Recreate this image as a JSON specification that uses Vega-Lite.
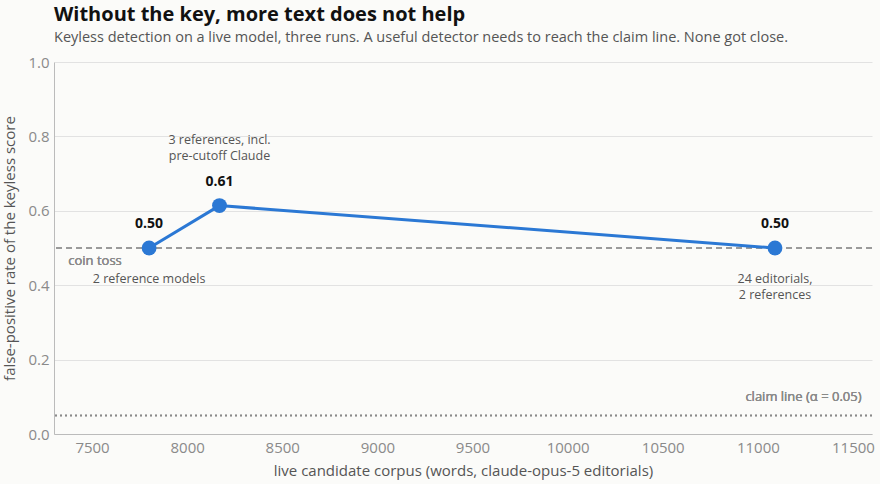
{
  "$schema": "https://vega.github.io/schema/vega-lite/v6.json",
  "width": 880,
  "height": 484,
  "autosize": {"type": "fit", "contains": "padding"},
  "padding": {"left": 2, "top": 4, "right": 7, "bottom": 6},
  "background": "#fbfbf9",
  "title": {
    "text": "Without the key, more text does not help",
    "subtitle": "Keyless detection on a live model, three runs. A useful detector needs to reach the claim line. None got close.",
    "anchor": "start",
    "frame": "group",
    "font": "Open Sans",
    "fontSize": 20,
    "fontWeight": "bold",
    "color": "#111111",
    "subtitleFont": "Open Sans",
    "subtitleFontSize": 14.5,
    "subtitleColor": "#555555",
    "subtitlePadding": 6,
    "offset": 11
  },
  "config": {
    "view": {"stroke": null},
    "font": "Open Sans",
    "axis": {
      "labelFont": "Open Sans",
      "titleFont": "Open Sans",
      "labelFontSize": 15,
      "titleFontSize": 15,
      "labelColor": "#8a8a8a",
      "titleColor": "#555555",
      "titleFontWeight": "normal",
      "domainColor": "#bbbbbb",
      "gridColor": "#e2e2e2",
      "ticks": false
    }
  },
  "data": {
    "values": [
      {"corpus": 7800, "fpr": 0.50, "note": "2 reference models"},
      {"corpus": 8170, "fpr": 0.614, "note": "3 references, incl.\npre-cutoff Claude"},
      {"corpus": 11090, "fpr": 0.50, "note": "24 editorials,\n2 references"}
    ]
  },
  "encoding": {
    "x": {
      "field": "corpus",
      "type": "quantitative",
      "title": "live candidate corpus (words, claude-opus-5 editorials)",
      "scale": {"domain": [7300, 11600], "nice": false, "zero": false},
      "axis": {"values": [7500, 8000, 8500, 9000, 9500, 10000, 10500, 11000, 11500], "format": "d", "grid": false, "labelPadding": 6, "titlePadding": 8}
    },
    "y": {
      "field": "fpr",
      "type": "quantitative",
      "title": "false-positive rate of the keyless score",
      "scale": {"domain": [0, 1], "nice": false},
      "axis": {"values": [0, 0.2, 0.4, 0.6, 0.8, 1.0], "format": ".1f", "labelPadding": 5, "titlePadding": 10}
    }
  },
  "layer": [
    {
      "mark": {"type": "rule", "color": "#999999", "strokeDash": [6, 4], "strokeWidth": 1.5},
      "encoding": {"y": {"datum": 0.5}, "x": null}
    },
    {
      "mark": {"type": "rule", "color": "#8a8a8a", "strokeDash": [2, 3], "strokeWidth": 1.5},
      "encoding": {"y": {"datum": 0.05}, "x": null}
    },
    {
      "mark": {"type": "text", "align": "left", "baseline": "middle", "color": "#8a8a8a", "fontSize": 13, "dy": 13},
      "encoding": {"x": {"datum": 7375}, "y": {"datum": 0.5}, "text": {"value": "coin toss"}}
    },
    {
      "mark": {"type": "text", "align": "right", "baseline": "middle", "color": "#8a8a8a", "fontSize": 13, "dy": -18},
      "encoding": {"x": {"datum": 11545}, "y": {"datum": 0.05}, "text": {"value": "claim line (α = 0.05)"}}
    },
    {
      "mark": {"type": "line", "color": "#2b78d4", "strokeWidth": 3}
    },
    {
      "mark": {"type": "point", "filled": true, "opacity": 1, "color": "#2b78d4", "size": 220}
    },
    {
      "mark": {"type": "text", "fontWeight": "bold", "fontSize": 14, "color": "#111111", "baseline": "middle", "dy": -24},
      "encoding": {"text": {"field": "fpr", "type": "quantitative", "format": ".2f"}}
    },
    {
      "transform": [{"filter": "datum.corpus != 8170"}],
      "mark": {"type": "text", "fontSize": 12.5, "color": "#555555", "baseline": "top", "dy": 25, "lineBreak": "\n", "lineHeight": 16},
      "encoding": {"text": {"field": "note"}}
    },
    {
      "transform": [{"filter": "datum.corpus == 8170"}],
      "mark": {"type": "text", "fontSize": 12.5, "color": "#555555", "baseline": "bottom", "dy": -59, "lineBreak": "\n", "lineHeight": 16},
      "encoding": {"text": {"field": "note"}}
    }
  ]
}
